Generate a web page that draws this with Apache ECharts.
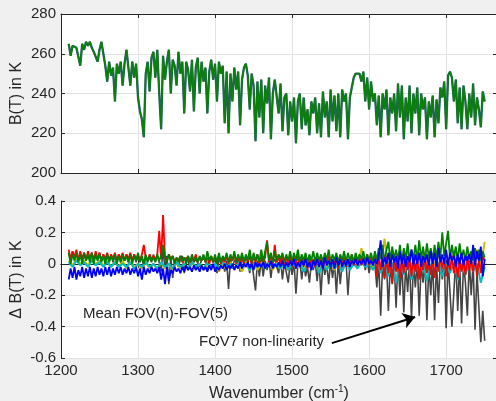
<!DOCTYPE html>
<html>
<head>
<meta charset="utf-8">
<script src="https://cdn.jsdelivr.net/npm/echarts@6/dist/echarts.min.js"></script>
<style>
  html, body { margin: 0; padding: 0; background: #f0f0f0; }
  #chart { width: 496px; height: 401px; }
</style>
</head>
<body>
<div id="chart"></div>
<script>
// Brightness temperature spectrum (K), sampled every 2.5 cm^-1 from 1210 to 1750
const btSpectrum = [
  265,259,264,265,263,264,254,265,262,266,
  264,266,263,261,262,256,262,266,260,254,
  246,256,249,253,236,255,250,256,244,255,
  262,253,244,256,248,255,238,231,227,218,
  250,256,241,258,261,248,262,240,222,259,
  247,256,262,240,257,254,244,261,250,256,
  230,256,252,241,257,231,253,258,240,256,
  246,253,230,251,257,247,255,236,256,250,
  254,225,251,220,250,236,253,242,251,224,
  247,253,255,249,232,250,244,216,246,228,
  247,220,244,235,248,217,240,247,246,230,
  245,221,238,240,219,236,226,238,215,236,
  240,222,238,224,232,219,236,230,238,220,
  235,218,241,228,236,218,242,226,239,221,
  240,218,242,236,240,217,238,243,248,250,
  251,250,246,251,236,248,232,246,236,240,
  224,239,218,240,232,242,219,238,230,240,
  221,245,228,244,217,238,226,244,220,240,
  230,243,219,240,232,238,217,236,228,239,
  218,237,225,243,238,246,222,249,251,248,
  236,247,225,243,222,244,236,222,240,228,
  245,224,238,232,223,241,236
];

// FOV7 minus FOV5 (K), same 2.5 cm^-1 sampling
const fov7 = [
  0.07,0.02,0.08,0.03,0.07,0.02,0.06,0.03,0.07,0.02,
  0.06,0.03,0.07,0.02,0.06,0.03,0.07,0.02,0.06,0.01,
  0.05,0.02,0.06,0.01,0.05,0.02,0.06,0.01,0.05,0.02,
  0.06,0.01,0.05,0.02,0.06,0.01,0.05,0.02,0.04,-0.02,
  0.05,0.02,0.04,0.01,0.06,0.02,0.05,0.01,-0.05,0.09,
  -0.03,0.05,-0.13,0.04,-0.09,0.03,0.04,-0.02,0.03,0.05,
  -0.06,0.04,0.02,-0.03,0.04,0.01,0.03,0.04,-0.02,0.03,
  0.02,0.03,-0.04,0.02,0.04,0.01,0.03,-0.06,0.03,0.02,
  0.03,-0.05,0.02,-0.16,0.03,-0.03,0.02,0.01,0.03,-0.05,
  0.02,0.03,0.04,0.01,-0.06,0.02,0.01,-0.17,0.02,-0.08,
  0.03,-0.08,0.02,-0.04,0.03,-0.09,0.01,0.03,0.02,-0.06,
  0.03,-0.10,0.01,0.02,-0.12,0.01,-0.07,0.01,-0.19,0.00,
  0.02,-0.10,0.01,-0.08,-0.02,-0.12,0.01,-0.04,0.02,-0.11,
  0.01,-0.20,0.02,-0.07,0.00,-0.13,0.02,-0.09,0.01,-0.19,
  0.02,-0.13,0.01,-0.02,0.02,-0.20,0.00,0.02,0.03,0.02,
  0.03,0.02,0.01,0.03,-0.04,0.02,-0.06,0.01,-0.04,0.00,
  -0.15,0.01,-0.33,0.00,-0.10,0.02,-0.30,0.00,-0.13,0.01,
  -0.28,0.03,-0.20,0.02,-0.31,0.00,-0.18,0.03,-0.35,0.01,
  -0.15,0.02,-0.33,0.00,-0.12,0.01,-0.36,0.00,-0.20,0.02,
  -0.36,0.00,-0.25,0.02,-0.10,0.04,-0.41,0.03,0.02,-0.40,
  -0.18,0.03,-0.30,0.02,-0.38,0.01,-0.12,-0.33,0.02,-0.20,
  0.01,-0.42,-0.05,-0.28,-0.50,-0.30,-0.49
];

// Red, green and blue FOV differences (K), same 2.5 cm^-1 sampling
const fovRed = [
  0.09,0.03,0.08,0.04,0.09,0.02,0.08,0.03,0.07,0.02,
  0.08,0.03,0.07,0.02,0.08,0.03,0.07,0.02,0.06,0.03,
  0.07,0.02,0.06,0.03,0.07,0.02,0.06,0.03,0.07,0.02,
  0.06,0.03,0.07,0.02,0.06,0.03,0.05,0.02,0.06,0.12,
  0.04,0.02,0.06,0.03,0.05,0.02,0.06,0.21,0.03,0.31,
  0.04,0.02,0.06,0.03,0.05,0.01,0.04,0.02,0.05,0.01,
  0.04,0.02,0.05,0.01,0.04,0.02,0.06,0.01,0.04,0.02,
  0.05,0.01,0.04,0.00,0.05,0.01,0.04,0.02,0.05,0.00,
  0.04,0.01,0.05,0.00,0.04,0.02,0.06,0.00,0.04,0.01,
  0.05,0.00,0.04,0.01,0.05,0.00,0.04,0.01,0.06,0.00,
  0.05,0.01,0.04,0.15,0.01,0.05,0.00,0.12,0.01,0.04,
  0.00,0.05,-0.01,0.04,0.00,0.05,-0.02,0.04,0.00,0.05,
  -0.02,0.04,0.00,0.05,-0.03,0.04,0.00,0.03,-0.02,0.04,
  0.00,0.05,-0.03,0.04,0.00,0.05,-0.02,0.03,0.00,0.04,
  -0.03,0.05,0.00,0.04,-0.02,0.03,0.00,0.06,-0.01,0.04,
  0.00,0.05,-0.01,0.04,0.02,0.06,-0.01,0.04,0.00,0.05,
  -0.08,0.06,-0.04,0.03,-0.09,0.05,-0.06,0.04,-0.12,0.05,
  -0.05,0.03,-0.09,0.04,-0.06,0.06,-0.04,0.03,-0.08,0.05,
  -0.05,0.04,-0.10,0.03,-0.04,0.05,-0.06,0.02,-0.07,0.04,
  -0.09,0.03,-0.05,0.05,-0.03,0.04,-0.08,0.02,-0.04,0.05,
  -0.06,0.03,-0.09,0.04,-0.05,0.02,-0.07,0.05,-0.04,0.03,
  -0.05,0.04,-0.08,0.03,-0.06,0.05,0.02
];
const fovGreen = [
  0.07,0.00,0.06,0.02,0.07,0.01,0.06,0.00,0.07,0.02,
  0.06,0.01,0.07,0.00,0.06,0.02,0.06,0.01,0.05,0.00,
  0.06,0.01,0.05,0.02,0.06,0.00,0.05,0.01,0.06,0.02,
  0.05,0.01,0.06,0.00,0.05,0.02,0.07,0.01,0.05,0.00,
  0.06,0.01,0.05,0.02,0.04,0.01,0.06,0.02,0.05,0.12,
  0.04,0.01,0.06,0.02,0.05,0.00,0.04,0.01,0.05,0.02,
  0.04,0.00,0.05,0.01,0.06,0.02,0.04,0.01,0.05,0.02,
  0.06,0.01,0.08,0.02,0.05,0.01,0.06,0.00,0.07,0.01,
  0.05,0.02,0.07,0.01,0.06,0.02,0.08,0.01,0.06,0.02,
  0.07,0.01,0.06,0.02,0.09,0.01,0.07,0.02,0.06,0.01,
  0.09,0.01,0.08,0.14,0.02,0.07,0.01,0.08,0.02,0.06,
  0.03,0.07,0.01,0.06,0.02,0.08,0.01,0.07,0.02,0.09,
  0.01,0.06,0.02,0.07,0.01,0.06,0.02,0.08,0.01,0.07,
  0.02,0.06,0.01,0.07,0.02,0.09,0.01,0.06,0.02,0.07,
  0.01,0.06,0.02,0.08,0.01,0.07,0.02,0.06,0.01,0.07,
  0.02,0.06,0.03,0.08,0.01,0.06,0.02,0.07,0.01,0.08,
  0.02,0.10,0.03,0.12,0.01,0.09,0.14,0.02,0.11,0.03,
  0.09,0.02,0.12,0.01,0.10,0.03,0.13,0.02,0.09,0.03,
  0.12,0.02,0.15,0.03,0.11,0.02,0.13,0.04,0.10,0.02,
  0.12,0.03,0.14,0.04,0.20,0.05,0.13,0.21,0.03,0.12,
  0.04,0.11,0.02,0.13,0.03,0.09,0.02,0.11,0.03,0.08,
  0.02,0.10,0.03,0.09,0.02,0.08,0.04
];
const fovBlue = [
  -0.10,-0.03,-0.09,-0.02,-0.10,-0.04,-0.08,-0.02,-0.09,-0.03,
  -0.08,-0.02,-0.09,-0.03,-0.08,-0.02,-0.07,-0.03,-0.08,-0.02,
  -0.07,-0.02,-0.08,-0.03,-0.07,-0.02,-0.06,-0.02,-0.07,-0.03,
  -0.06,-0.02,-0.07,-0.03,-0.06,-0.02,-0.08,-0.03,-0.10,-0.02,
  -0.07,-0.03,-0.06,-0.02,-0.05,-0.03,-0.06,-0.02,-0.10,-0.03,
  -0.13,-0.02,-0.11,-0.04,-0.06,-0.02,-0.05,-0.03,-0.06,-0.02,
  -0.05,-0.01,-0.04,-0.02,-0.05,-0.01,-0.04,-0.02,-0.05,-0.01,
  -0.04,-0.02,-0.05,-0.01,-0.04,0.00,-0.05,-0.02,-0.04,-0.01,
  -0.03,0.00,-0.04,-0.01,-0.03,0.00,-0.04,-0.01,-0.03,0.01,
  -0.03,0.00,-0.02,0.01,-0.03,0.00,-0.04,0.01,-0.02,0.00,
  -0.02,0.01,-0.03,0.00,-0.02,0.02,-0.03,0.00,-0.02,0.01,
  -0.02,0.02,-0.03,0.01,-0.02,0.02,-0.01,0.03,-0.03,0.01,
  -0.02,0.02,-0.01,0.03,-0.02,0.01,-0.04,0.02,-0.01,0.03,
  -0.02,0.02,-0.03,0.04,-0.01,0.02,-0.02,0.03,-0.03,0.04,
  -0.01,0.03,-0.02,0.02,-0.01,0.03,-0.02,0.02,0.00,0.03,
  -0.01,0.02,0.00,0.03,-0.01,0.04,0.00,0.02,-0.01,0.03,
  0.00,0.05,0.15,-0.02,0.04,0.00,0.07,-0.02,0.06,0.01,
  0.05,-0.03,0.08,0.00,0.06,-0.02,0.05,0.01,0.09,-0.01,
  0.06,0.00,0.07,-0.02,0.05,0.01,0.06,-0.01,0.08,0.00,
  0.07,-0.02,0.10,0.01,0.06,0.00,0.09,-0.01,0.07,0.02,
  0.05,-0.02,0.06,0.00,0.07,-0.01,0.05,0.02,0.06,0.00,
  0.12,-0.01,0.08,0.02,0.11,-0.08,0.03
];

// Yellow and cyan FOV differences (K), sampled every 5 cm^-1 from 1210 to 1750
const fovYellow = [
  0.02,-0.01,0.03,0.00,0.02,-0.01,0.03,0.00,0.02,-0.01,
  0.02,-0.02,0.01,-0.02,0.02,-0.03,0.01,-0.02,0.00,-0.03,
  0.01,-0.03,0.00,-0.04,0.01,-0.03,0.00,-0.04,0.01,-0.03,
  0.00,-0.04,0.01,-0.03,0.00,-0.04,-0.01,-0.03,0.00,-0.05,
  0.00,-0.04,0.01,-0.03,0.00,-0.05,0.01,-0.04,0.00,-0.04,
  0.01,-0.03,0.02,-0.04,0.01,-0.03,0.00,-0.04,0.02,-0.03,
  0.01,-0.04,0.02,-0.03,0.01,-0.04,0.02,-0.03,0.01,-0.04,
  0.03,-0.02,0.02,-0.03,0.04,-0.02,0.10,-0.01,0.03,-0.02,
  0.05,-0.03,0.16,-0.02,0.08,-0.03,0.06,-0.01,0.09,-0.02,
  0.06,-0.03,0.07,-0.02,0.08,-0.01,0.06,-0.03,0.07,-0.02,
  0.08,-0.01,0.06,-0.02,0.07,-0.03,0.09,-0.02,0.14
];
const fovCyan = [
  0.01,-0.02,0.02,-0.01,0.01,-0.02,0.02,-0.01,0.01,-0.02,
  0.01,-0.02,0.01,-0.02,0.00,-0.02,0.01,-0.03,0.00,-0.02,
  0.01,-0.02,0.00,-0.03,0.01,-0.02,0.00,-0.03,0.01,-0.02,
  0.00,-0.03,0.01,-0.02,0.00,-0.03,0.01,-0.02,0.00,-0.03,
  0.01,-0.02,0.00,-0.03,0.01,-0.02,0.00,-0.04,0.01,-0.02,
  0.00,-0.03,0.01,-0.02,0.00,-0.03,0.01,-0.04,0.00,-0.02,
  0.01,-0.05,0.00,-0.03,0.01,-0.06,0.00,-0.04,0.01,-0.03,
  0.00,-0.05,0.01,-0.04,0.00,-0.03,0.01,-0.02,0.00,-0.04,
  0.01,-0.06,0.00,-0.08,0.01,-0.12,0.00,-0.07,0.01,-0.10,
  0.00,-0.06,0.01,-0.11,0.00,-0.05,0.01,-0.08,0.00,-0.06,
  0.01,-0.10,0.00,-0.07,0.01,-0.05,0.00,-0.12,-0.02
];

// Sampling grids
const wnFine = btSpectrum.map((_, i) => 1210 + 2.5 * i);
const wnCoarse = fovYellow.map((_, i) => 1210 + 5 * i);

const xTicks = [1200, 1300, 1400, 1500, 1600, 1700];
const btTicks = [200, 220, 240, 260, 280];
const dbtTicks = [-0.6, -0.4, -0.2, 0, 0.2, 0.4];

// Arrow for the FOV7 annotation, in axis units
const arrowFrom = [1551.6, -0.505];
const arrowTo = [1659.7, -0.339];

const pair = (xs, ys) => xs.map((x, i) => [x, ys[i]]);

const FONT = "'Liberation Sans', Arial, sans-serif";
const INK = '#262626';
const GRIDLINE = '#e3e3e3';
const X_MIN = 1200, X_MAX = 1766;

const tick = { show: true, inside: true, length: 4, lineStyle: { color: INK } };
const spine = { show: true, lineStyle: { color: INK, width: 1 } };

const bottomX = (gridIndex, showLabels) => ({
  type: 'value', gridIndex, min: X_MIN, max: X_MAX, interval: 100,
  axisLine: spine, axisTick: Object.assign({ customValues: xTicks }, tick),
  axisLabel: {
    show: showLabels, color: INK, fontFamily: FONT, fontSize: 15, margin: 5,
    customValues: xTicks, formatter: v => String(v)
  },
  splitLine: { show: true, lineStyle: { color: GRIDLINE, width: 1 } }
});
const topX = (gridIndex) => ({
  type: 'value', gridIndex, min: X_MIN, max: X_MAX, interval: 100, position: 'top',
  axisLine: spine, axisTick: Object.assign({ customValues: xTicks }, tick),
  axisLabel: { show: false }, splitLine: { show: false }
});
const rightY = (gridIndex, min, max, interval) => ({
  type: 'value', gridIndex, min, max, interval, position: 'right',
  axisLine: spine, axisTick: tick, axisLabel: { show: false }, splitLine: { show: false }
});

const line = (xs, ys, color, width, extra) => Object.assign({
  type: 'line', xAxisIndex: 1, yAxisIndex: 1, data: pair(xs, ys),
  showSymbol: false, silent: true, lineStyle: { color, width }
}, extra || {});

const option = {
  backgroundColor: '#f0f0f0',
  animation: false,
  grid: [
    { left: 61, top: 14, width: 436, height: 159, outerBoundsMode: 'none',
      show: true, backgroundColor: '#ffffff', borderWidth: 0 },
    { left: 61, top: 201, width: 436, height: 157, outerBoundsMode: 'none',
      show: true, backgroundColor: '#ffffff', borderWidth: 0 }
  ],
  xAxis: [
    bottomX(0, false),
    Object.assign(bottomX(1, true), {
      name: '{a|Wavenumber (cm}{s|-1}{a|)}',
      nameLocation: 'middle', nameGap: 26, nameMoveOverlap: false,
      nameTextStyle: {
        rich: {
          a: { fontFamily: FONT, fontSize: 16, color: INK },
          s: { fontFamily: FONT, fontSize: 10, color: INK, verticalAlign: 'top', padding: [0, 0, 10, 0] }
        }
      }
    }),
    topX(0), topX(1)
  ],
  yAxis: [
    {
      type: 'value', gridIndex: 0, min: 200, max: 280, interval: 20,
      name: 'B(T) in K', nameLocation: 'middle', nameGap: 36, nameMoveOverlap: false,
      nameTextStyle: { fontFamily: FONT, fontSize: 16, color: INK },
      axisLine: spine, axisTick: tick,
      axisLabel: { color: INK, fontFamily: FONT, fontSize: 15, margin: 5, customValues: btTicks },
      splitLine: { show: true, lineStyle: { color: GRIDLINE } }
    },
    {
      type: 'value', gridIndex: 1, min: -0.6, max: 0.4, interval: 0.2,
      name: '\u0394 B(T) in K', nameLocation: 'middle', nameGap: 36, nameMoveOverlap: false,
      nameTextStyle: { fontFamily: FONT, fontSize: 16, color: INK },
      axisLine: spine, axisTick: tick,
      axisLabel: {
        color: INK, fontFamily: FONT, fontSize: 15, margin: 5, customValues: dbtTicks,
        formatter: v => (Math.abs(v) < 1e-9 ? '0' : v.toFixed(1))
      },
      splitLine: { show: true, lineStyle: { color: GRIDLINE } }
    },
    rightY(0, 200, 280, 20),
    rightY(1, -0.6, 0.4, 0.2)
  ],
  series: [
    {
      type: 'line', xAxisIndex: 0, yAxisIndex: 0, data: pair(wnFine, btSpectrum),
      showSymbol: false, lineStyle: { color: '#275a6b', width: 2.3 }, silent: true
    },
    {
      type: 'line', xAxisIndex: 0, yAxisIndex: 0, data: pair(wnFine, btSpectrum),
      showSymbol: false, lineStyle: { color: '#0b800b', width: 1.5 }, silent: true
    },
    line(wnFine, fov7, '#444444', 1.6),
    line(wnCoarse, fovYellow, '#c8c000', 2),
    line(wnCoarse, fovCyan, '#00bcbc', 2),
    line(wnFine, fovRed, '#ff0000', 1.8),
    line(wnFine, fovGreen, '#008000', 1.8),
    line(wnFine, fovBlue, '#0000ff', 1.8, {
      markLine: {
        silent: true, animation: false,
        symbol: ['none', 'arrow'], symbolSize: 12,
        lineStyle: { color: '#000000', width: 2, type: 'solid' },
        label: { show: false },
        emphasis: { disabled: true },
        data: [[{ coord: arrowFrom }, { coord: arrowTo }]]
      }
    })
  ],
  graphic: [
    {
      type: 'text', left: 83, top: 306,
      style: { text: 'Mean FOV(n)-FOV(5)', font: "15px 'Liberation Sans', Arial, sans-serif", fill: INK }
    },
    {
      type: 'text', left: 199, top: 334,
      style: { text: 'FOV7 non-linearity', font: "15px 'Liberation Sans', Arial, sans-serif", fill: INK }
    }
  ]
};

const chart = echarts.init(document.getElementById('chart'), null, { renderer: 'canvas' });
chart.setOption(option);
</script>
</body>
</html>
